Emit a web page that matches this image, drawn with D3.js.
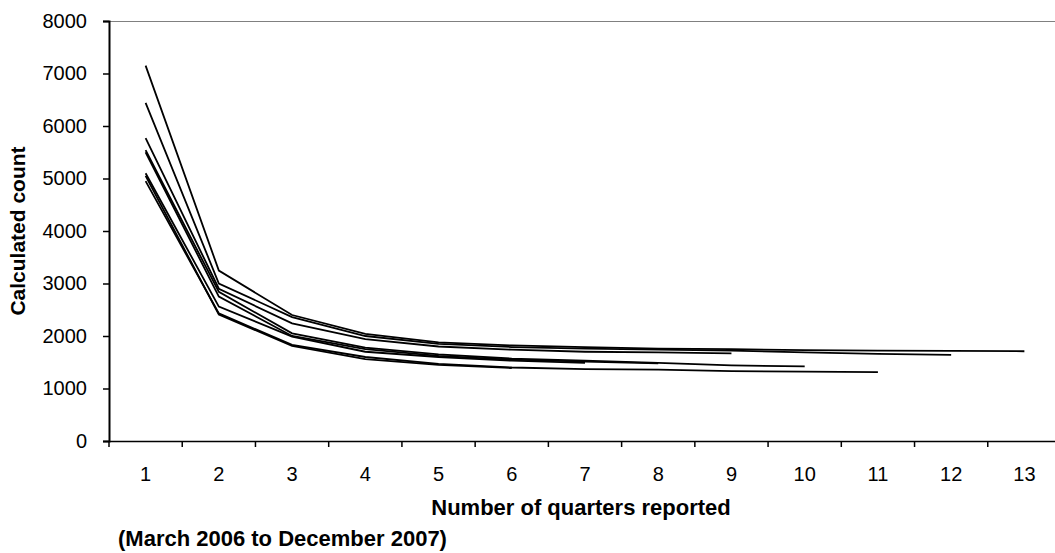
<!DOCTYPE html>
<html>
<head>
<meta charset="utf-8">
<script src="https://cdn.jsdelivr.net/npm/d3@7"></script>
<style>
  body { margin: 0; background: #fff; }
  text { font-family: Arial, "Liberation Sans", sans-serif; fill: #000; }
</style>
</head>
<body>
<div id="main"></div>
<script>
var width = 1055,
    height = 553;

// quarters reported
var quarters = [1, 2, 3, 4, 5, 6, 7, 8, 9, 10, 11, 12, 13];
var yTicks = [0, 1000, 2000, 3000, 4000, 5000, 6000, 7000, 8000];

// one cohort per line, each a different number of quarters
var cohort1 = [7150, 3245, 2400, 2040, 1880, 1820, 1790, 1760, 1750, 1730, 1720, 1715, 1710];
var cohort2 = [6440, 3000, 2360, 2000, 1850, 1790, 1760, 1740, 1720, 1690, 1660, 1640];
var cohort3 = [5770, 2900, 2240, 1940, 1800, 1740, 1700, 1690, 1670];
var cohort4 = [5540, 2840, 2050, 1780, 1650, 1570, 1530, 1490, 1440, 1420];
var cohort5 = [5500, 2750, 2000, 1750, 1620, 1550, 1510, 1480];
var cohort6 = [5100, 2560, 1990, 1700, 1600, 1530, 1490];
var cohort7 = [4950, 2430, 1830, 1600, 1470, 1400, 1370, 1360, 1330, 1320, 1310];
var cohort8 = [5050, 2410, 1810, 1560, 1450, 1390];

var cohorts = [cohort1, cohort2, cohort3, cohort4, cohort5, cohort6, cohort7, cohort8];

var plotLeft = 109, plotTop = 21, plotRight = 1061, plotBottom = 441;

var svg = d3.select("#main").append("svg")
    .attr("width", width)
    .attr("height", height);

var x = d3.scaleBand()
    .domain(quarters)
    .range([plotLeft, plotRight]);

var y = d3.scaleLinear()
    .domain([0, 8000])
    .range([plotBottom, plotTop]);

// plot frame (top / right in grey)
svg.append("line")
    .attr("x1", plotLeft).attr("x2", plotRight)
    .attr("y1", plotTop + 0.5).attr("y2", plotTop + 0.5)
    .attr("stroke", "#808080").attr("stroke-width", 1.2);
svg.append("line")
    .attr("x1", plotRight - 0.5).attr("x2", plotRight - 0.5)
    .attr("y1", plotTop).attr("y2", plotBottom)
    .attr("stroke", "#808080").attr("stroke-width", 1.2);

// y axis
var yAxis = d3.axisLeft(y)
    .tickValues(yTicks)
    .tickFormat(d3.format("d"))
    .tickSize(6)
    .tickPadding(16);
var gy = svg.append("g")
    .attr("transform", "translate(" + plotLeft + ",0)")
    .call(yAxis);
gy.select(".domain").attr("stroke", "#000").attr("stroke-width", 2);
gy.selectAll(".tick line").attr("stroke", "#000").attr("stroke-width", 1.5);
gy.selectAll(".tick text")
    .style("font-size", "20px")
    .attr("font-family", null);

// x axis, ticks between categories
var xAxis = d3.axisBottom(x).tickSize(0).tickPadding(26);
var gx = svg.append("g")
    .attr("transform", "translate(0," + plotBottom + ")")
    .call(xAxis);
gx.select(".domain").attr("stroke", "#000").attr("stroke-width", 1.5);
gx.selectAll(".tick text")
    .style("font-size", "20px")
    .attr("font-family", null);
gx.selectAll(".sep")
    .data(quarters)
    .enter().append("line")
    .attr("class", "sep")
    .attr("x1", function(d){ return x(d); })
    .attr("x2", function(d){ return x(d); })
    .attr("y1", 0).attr("y2", 6)
    .attr("stroke", "#000").attr("stroke-width", 1.5);

// lines
var line = d3.line()
    .x(function(d, i){ return x(quarters[i]) + x.bandwidth() / 2; })
    .y(function(d){ return y(d); });

svg.selectAll(".cohort")
    .data(cohorts)
    .enter().append("path")
    .attr("class", "cohort")
    .attr("d", line)
    .attr("fill", "none")
    .attr("stroke", "#000")
    .attr("stroke-width", 1.8);

// titles
svg.append("text")
    .attr("transform", "translate(25," + ((plotTop + plotBottom) / 2) + ") rotate(-90)")
    .attr("text-anchor", "middle")
    .style("font-size", "21px")
    .style("font-weight", "bold")
    .text("Calculated count");

svg.append("text")
    .attr("x", 581)
    .attr("y", 515)
    .attr("text-anchor", "middle")
    .style("font-size", "22px")
    .style("font-weight", "bold")
    .text("Number of quarters reported");

svg.append("text")
    .attr("x", 118)
    .attr("y", 546)
    .style("font-size", "22px")
    .style("font-weight", "bold")
    .text("(March 2006 to December 2007)");
</script>
</body>
</html>
